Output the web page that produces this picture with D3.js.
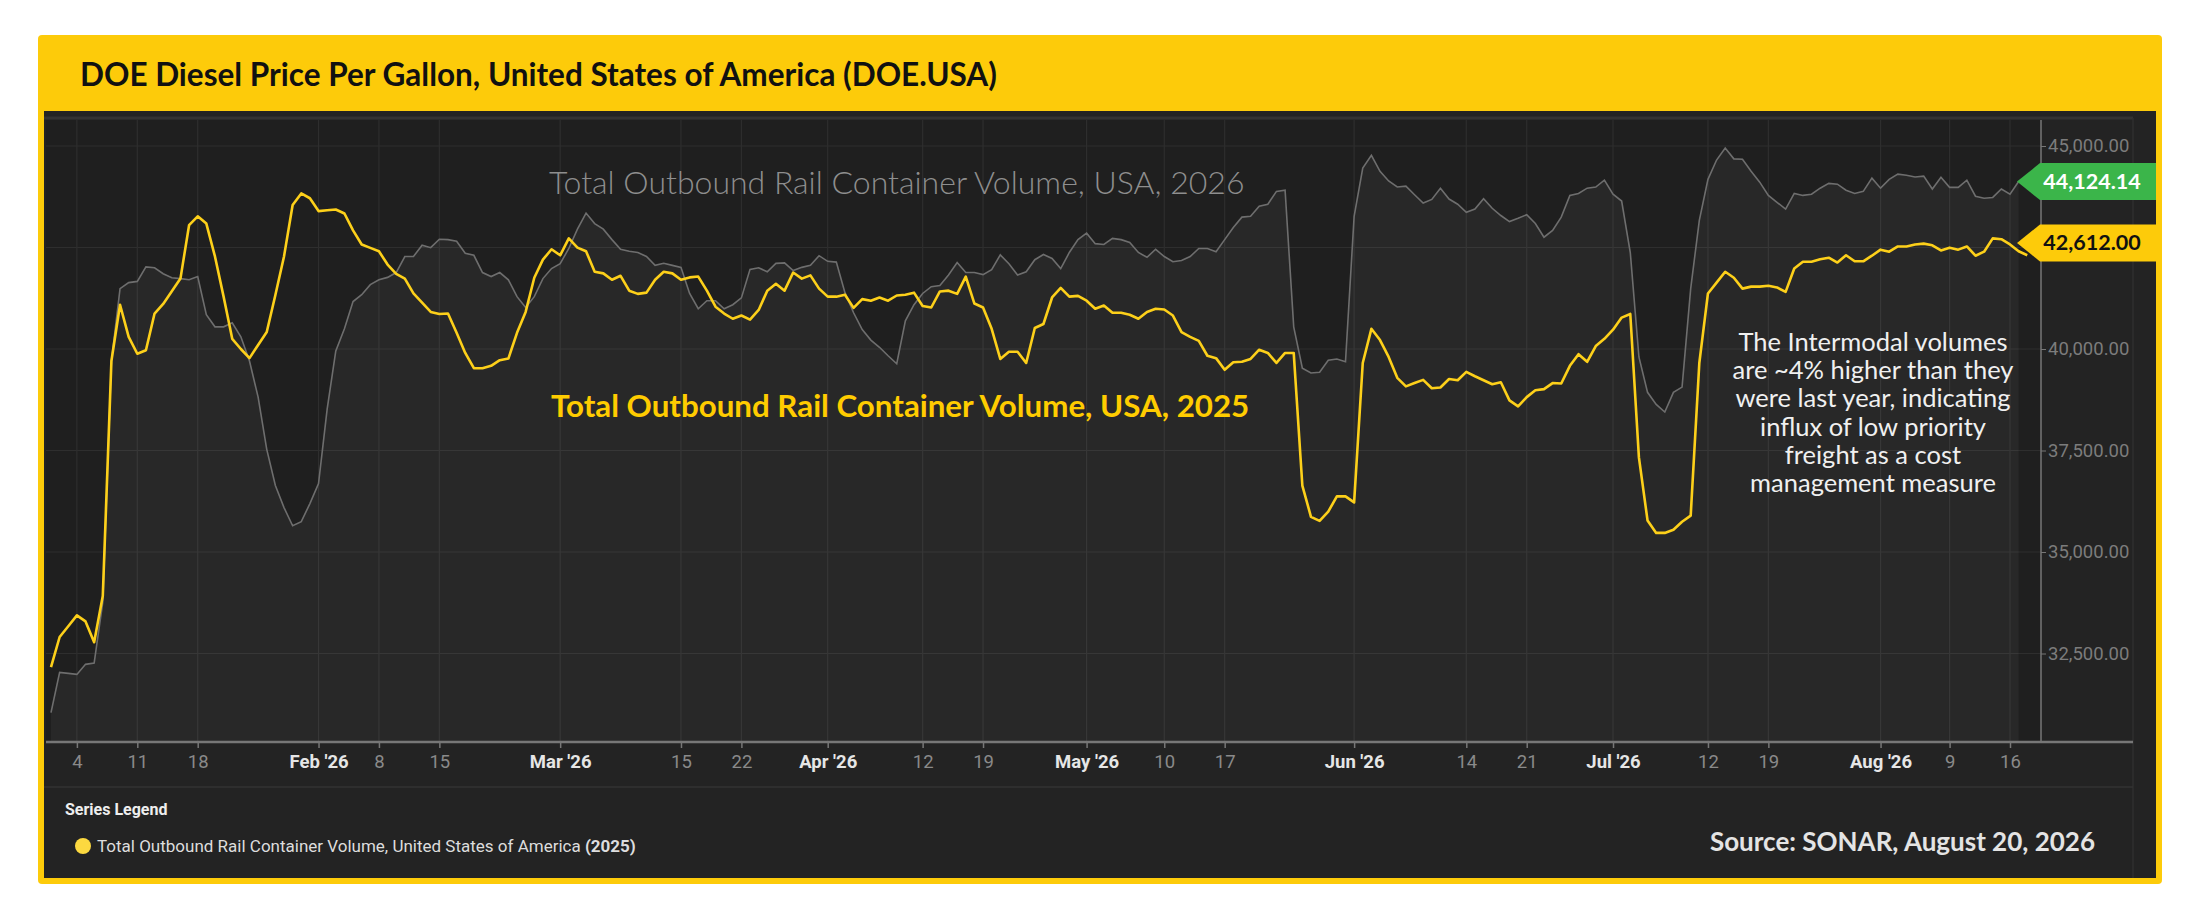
<!DOCTYPE html>
<html>
<head>
<meta charset="utf-8">
<script src="https://cdn.jsdelivr.net/npm/d3@7"></script>
<style>
  html, body { margin: 0; padding: 0; background: #fff; }
  svg { display: block; }
  .num   { font-family: Roboto, "Noto Sans", sans-serif; }
  .round { font-family: Lato, "Noto Sans", sans-serif; }
</style>
</head>
<body>
<div id="chart"></div>
<script>
// ---------------------------------------------------------------
//  Data  (daily values, day 0 = Jan 1)
// ---------------------------------------------------------------
var start_date = new Date(2026, 0, 1)

// 2026 series (grey area)
var volume_2026 = [
  31045, 32035, 32010, 31985, 32233, 32262, 33767, 39705, 41486, 41635,
  41665, 42021, 42000, 41853, 41754, 41734, 41705, 41784, 40843, 40546,
  40546, 40645, 40300, 39705, 38815, 37528, 36637, 36093, 35647, 35746,
  36192, 36687, 38518, 39953, 40497, 41170, 41338, 41585, 41705, 41764,
  41883, 42278, 42278, 42555, 42496, 42704, 42694, 42655, 42357, 42308,
  41883, 41784, 41883, 41705, 41289, 41022, 41289, 41734, 41982, 42100,
  42476, 42951, 43347, 43090, 42951, 42694, 42457, 42407, 42377, 42278,
  42060, 42110, 42060, 42011, 41368, 40992, 41190, 41190, 40992, 41090,
  41259, 41962, 42001, 41902, 42110, 42120, 41932, 42011, 42060, 42298,
  42159, 42140, 41388, 40893, 40477, 40220, 40042, 39834, 39636, 40695,
  41091, 41368, 41536, 41566, 41823, 42130, 41883, 41883, 41833, 41952,
  42318, 42100, 41823, 41902, 42199, 42328, 42229, 41982, 42377, 42694,
  42852, 42595, 42575, 42724, 42694, 42625, 42377, 42259, 42456, 42278,
  42150, 42179, 42278, 42476, 42476, 42397, 42694, 42990, 43248, 43268,
  43515, 43565, 43882, 43911, 40546, 39527, 39408, 39428, 39725, 39754,
  39685, 43268, 44456, 44772, 44376, 44139, 43990, 44010, 43800, 43595,
  43684, 43961, 43694, 43565, 43367, 43446, 43703, 43466, 43288, 43139,
  43218, 43308, 43090, 42753, 42922, 43248, 43783, 43832, 43961, 43990,
  44159, 43812, 43644, 42377, 39804, 38933, 38636, 38448, 38933, 39062,
  41487, 43169, 44179, 44654, 44950, 44683, 44673, 44377, 44109, 43783,
  43614, 43446, 43832, 43783, 43812, 43961, 44080, 44060, 43911, 43832,
  43882, 44208, 43961, 44179, 44307, 44278, 44238, 44258, 43941, 44228,
  43981, 43981, 44159, 43763, 43713, 43733, 43941, 43812, 44124
]

// 2025 series (yellow line), laid on the 2026 calendar
var volume_2025 = [
  32164, 32906, 33170, 33440, 33290, 32777, 33915, 39705, 41090, 40300,
  39883, 39970, 40873, 41110, 41420, 41734, 43050, 43268, 43090, 42280,
  41290, 40250, 40000, 39775, 40100, 40418, 41330, 42280, 43545, 43832,
  43713, 43397, 43417, 43437, 43337, 42922, 42575, 42490, 42407, 42080,
  41853, 41734, 41368, 41140, 40913, 40863, 40873, 40398, 39903, 39527,
  39527, 39586, 39725, 39765, 40398, 40913, 41754, 42200, 42457, 42308,
  42724, 42496, 42407, 41902, 41863, 41705, 41803, 41437, 41358, 41388,
  41705, 41902, 41863, 41705, 41764, 41784, 41437, 41041, 40873, 40745,
  40824, 40725, 40962, 41437, 41605, 41437, 41883, 41734, 41813, 41487,
  41289, 41289, 41338, 41012, 41229, 41190, 41269, 41190, 41318, 41338,
  41388, 41061, 41022, 41417, 41437, 41358, 41784, 41120, 41022, 40497,
  39755, 39933, 39933, 39656, 40517, 40616, 41269, 41506, 41289, 41308,
  41190, 40992, 41071, 40893, 40893, 40843, 40745, 40913, 40992, 40972,
  40824, 40418, 40299, 40200, 39834, 39775, 39487, 39675, 39685, 39755,
  39982, 39903, 39656, 39903, 39903, 36637, 35865, 35766, 35994, 36370,
  36370, 36221, 39656, 40497, 40220, 39804, 39290, 39080, 39161, 39240,
  39032, 39052, 39260, 39230, 39438, 39329, 39230, 39131, 39181, 38735,
  38587, 38815, 38983, 39012, 39161, 39151, 39586, 39873, 39685, 40071,
  40250, 40477, 40774, 40863, 37330, 35776, 35470, 35470, 35549, 35746,
  35895, 39656, 41368, 41635, 41902, 41754, 41487, 41536, 41536, 41556,
  41516, 41407, 41982, 42150, 42150, 42209, 42249, 42130, 42308, 42160,
  42160, 42298, 42447, 42397, 42526, 42526, 42575, 42595, 42555, 42427,
  42496, 42447, 42526, 42298, 42397, 42724, 42704, 42575, 42407, 42308
]

// last values shown in the right-hand flags
var last_2026 = 44124.14
var last_2025 = 42612.00

// x axis ticks  [month, day, label, is_month]
var x_ticks = [
  [0, 4, '4', 0], [0, 11, '11', 0], [0, 18, '18', 0],
  [1, 1, "Feb '26", 1], [1, 8, '8', 0], [1, 15, '15', 0],
  [2, 1, "Mar '26", 1], [2, 15, '15', 0], [2, 22, '22', 0],
  [3, 1, "Apr '26", 1], [3, 12, '12', 0], [3, 19, '19', 0],
  [4, 1, "May '26", 1], [4, 10, '10', 0], [4, 17, '17', 0],
  [5, 1, "Jun '26", 1], [5, 14, '14', 0], [5, 21, '21', 0],
  [6, 1, "Jul '26", 1], [6, 12, '12', 0], [6, 19, '19', 0],
  [7, 1, "Aug '26", 1], [7, 9, '9', 0], [7, 16, '16', 0]
]
var y_grid   = [32500, 35000, 37500, 40000, 42500, 45000]
var y_labels = [32500, 35000, 37500, 40000, 45000]   // 42,500 sits under the flag

var title_text  = 'DOE Diesel Price Per Gallon, United States of America (DOE.USA)'
var label_2026  = 'Total Outbound Rail Container Volume, USA, 2026'
var label_2025  = 'Total Outbound Rail Container Volume, USA, 2025'
var note_lines  = ['The Intermodal volumes', 'are ~4% higher than they', 'were last year, indicating',
                   'influx of low priority', 'freight as a cost', 'management measure']
var legend_text = 'Total Outbound Rail Container Volume, United States of America '
var source_text = 'Source: SONAR, August 20, 2026'

// ---------------------------------------------------------------
//  Layout
// ---------------------------------------------------------------
var width  = 2192
var height = 920
var plot   = { left: 46, right: 2041, top: 120, bottom: 742 }

var svg = d3.select('#chart').append('svg')
    .attr('width',  width)
    .attr('height', height)

// yellow frame + dark panel
svg.append('rect')
    .attr('x', 38).attr('y', 35).attr('width', 2124).attr('height', 849)
    .attr('rx', 4).attr('fill', '#fdcb0a')
svg.append('rect')
    .attr('x', 44).attr('y', 111).attr('width', 2112).attr('height', 767)
    .attr('fill', '#232323')
svg.append('rect')
    .attr('x', plot.left).attr('y', plot.top)
    .attr('width', plot.right - plot.left).attr('height', plot.bottom - plot.top)
    .attr('fill', '#1f1f1f')

// panel inner lines
svg.append('line').attr('x1', 44).attr('x2', 2133).attr('y1', 118).attr('y2', 118)
    .attr('stroke', '#333').attr('stroke-width', 3)
svg.append('line').attr('x1', 2133).attr('x2', 2133).attr('y1', 118).attr('y2', 878)
    .attr('stroke', '#2f2f2f').attr('stroke-width', 1.5)
svg.append('line').attr('x1', 44).attr('x2', 2133).attr('y1', 787).attr('y2', 787)
    .attr('stroke', '#333').attr('stroke-width', 1.5)

// title
svg.append('text')
    .attr('class', 'round')
    .attr('x', 80).attr('y', 86)
    .attr('font-size', 31.5).attr('font-weight', 700)
    .attr('fill', '#111')
    .text(title_text)

// ---------------------------------------------------------------
//  Scales
// ---------------------------------------------------------------
var x = d3.scaleTime()
    .domain([start_date, new Date(2026, 7, 16)])
    .range([51, 2010])
var y = d3.scaleLinear()
    .domain([32500, 45000])
    .range([653.5, 146])

var day = i => d3.timeDay.offset(start_date, i)
var tick_dates = x_ticks.map(t => new Date(2026, t[0], t[1]))

// grid
var grid = svg.append('g')
grid.selectAll('.hg').data(y_grid).enter().append('line')
    .attr('x1', plot.left).attr('x2', plot.right)
    .attr('y1', d => y(d)).attr('y2', d => y(d))
    .attr('stroke', '#2e2e2e').attr('stroke-width', 1.2)
grid.selectAll('.vg').data(tick_dates).enter().append('line')
    .attr('x1', d => x(d)).attr('x2', d => x(d))
    .attr('y1', plot.top).attr('y2', plot.bottom)
    .attr('stroke', '#2e2e2e').attr('stroke-width', 1.2)

// 2026 area + line
var area = d3.area()
    .x((d, i) => x(day(i)))
    .y0(plot.bottom)
    .y1(d => y(d))
var line = d3.line()
    .x((d, i) => x(day(i)))
    .y(d => y(d))

svg.append('path')
    .datum(volume_2026)
    .attr('d', area)
    .attr('fill', '#ffffff').attr('fill-opacity', 0.045)
svg.append('path')
    .datum(volume_2026)
    .attr('d', line)
    .attr('fill', 'none').attr('stroke', '#6e6e6e').attr('stroke-width', 1.6)

// 2025 line
svg.append('path')
    .datum(volume_2025)
    .attr('d', line)
    .attr('fill', 'none').attr('stroke', '#fdd01a').attr('stroke-width', 2.6)
    .attr('stroke-linejoin', 'round')

// ---------------------------------------------------------------
//  Axes
// ---------------------------------------------------------------
var x_axis = svg.append('g')
    .attr('transform', `translate(0,${plot.bottom})`)
    .call(d3.axisBottom(x)
        .tickValues(tick_dates)
        .tickSize(6).tickPadding(7)
        .tickFormat((d, i) => x_ticks[i][2]))
x_axis.select('.domain').remove()
x_axis.selectAll('line').attr('stroke', '#777').attr('stroke-width', 1.5)
x_axis.selectAll('text')
    .attr('class', 'num')
    .attr('font-size', 18.5)
    .attr('fill', (d, i) => x_ticks[i][3] ? '#e6e6e6' : '#8a8a8a')
    .attr('font-weight', (d, i) => x_ticks[i][3] ? 700 : 400)
svg.append('line')
    .attr('x1', plot.left).attr('x2', 2133)
    .attr('y1', plot.bottom).attr('y2', plot.bottom)
    .attr('stroke', '#777').attr('stroke-width', 2.5)

var y_axis = svg.append('g')
    .attr('transform', `translate(${plot.right},0)`)
    .call(d3.axisRight(y)
        .tickValues(y_labels)
        .tickSize(5).tickPadding(2)
        .tickFormat(d3.format(',.2f')))
y_axis.select('.domain').remove()
y_axis.selectAll('line').attr('stroke', '#777')
y_axis.selectAll('text')
    .attr('class', 'num')
    .attr('font-size', 18.5)
    .attr('fill', '#7c7c7c')
svg.append('line')
    .attr('x1', plot.right).attr('x2', plot.right)
    .attr('y1', plot.top).attr('y2', plot.bottom)
    .attr('stroke', '#777').attr('stroke-width', 1.5)

// value flags
function flag(value, fill, text_fill) {
    var yc = y(value)
    var pts = [[2017, yc], [2040, yc - 18.5], [2156, yc - 18.5], [2156, yc + 18.5], [2040, yc + 18.5]]
    svg.append('polygon')
        .attr('points', pts.map(p => p.join(',')).join(' '))
        .attr('fill', fill)
    svg.append('text')
        .attr('class', 'round')
        .attr('x', 2092).attr('y', yc + 7.5)
        .attr('text-anchor', 'middle')
        .attr('font-size', 21.5).attr('font-weight', 700)
        .attr('fill', text_fill)
        .text(d3.format(',.2f')(value))
}
flag(last_2026, '#3bb54a', '#ffffff')
flag(last_2025, '#fdcb0a', '#111111')

// ---------------------------------------------------------------
//  Annotations
// ---------------------------------------------------------------
svg.append('text')
    .attr('class', 'round')
    .attr('x', 549).attr('y', 194)
    .attr('font-size', 32).attr('font-weight', 300)
    .attr('fill', '#8e8e8e')
    .text(label_2026)
svg.append('text')
    .attr('class', 'round')
    .attr('x', 551).attr('y', 417)
    .attr('font-size', 31.3).attr('font-weight', 700)
    .attr('fill', '#ffcc00')
    .text(label_2025)

svg.append('g').selectAll('text')
    .data(note_lines).enter().append('text')
    .attr('class', 'round')
    .attr('x', 1873)
    .attr('y', (d, i) => 351 + i * 28.2)
    .attr('text-anchor', 'middle')
    .attr('font-size', 25.5)
    .attr('fill', '#f0f0f0')
    .text(d => d)

// legend
svg.append('text')
    .attr('class', 'num')
    .attr('x', 65).attr('y', 815)
    .attr('font-size', 16).attr('font-weight', 700)
    .attr('fill', '#eeeeee')
    .text('Series Legend')
svg.append('circle')
    .attr('cx', 83).attr('cy', 846).attr('r', 8)
    .attr('fill', '#fcd940')
var leg = svg.append('text')
    .attr('class', 'num')
    .attr('x', 97).attr('y', 852)
    .attr('font-size', 17)
    .attr('fill', '#dddddd')
leg.append('tspan').text(legend_text)
leg.append('tspan').attr('font-weight', 700).text('(2025)')

// source
svg.append('text')
    .attr('class', 'round')
    .attr('x', 2095).attr('y', 851)
    .attr('text-anchor', 'end')
    .attr('font-size', 26).attr('font-weight', 700)
    .attr('fill', '#e4e4e4')
    .text(source_text)
</script>
</body>
</html>
